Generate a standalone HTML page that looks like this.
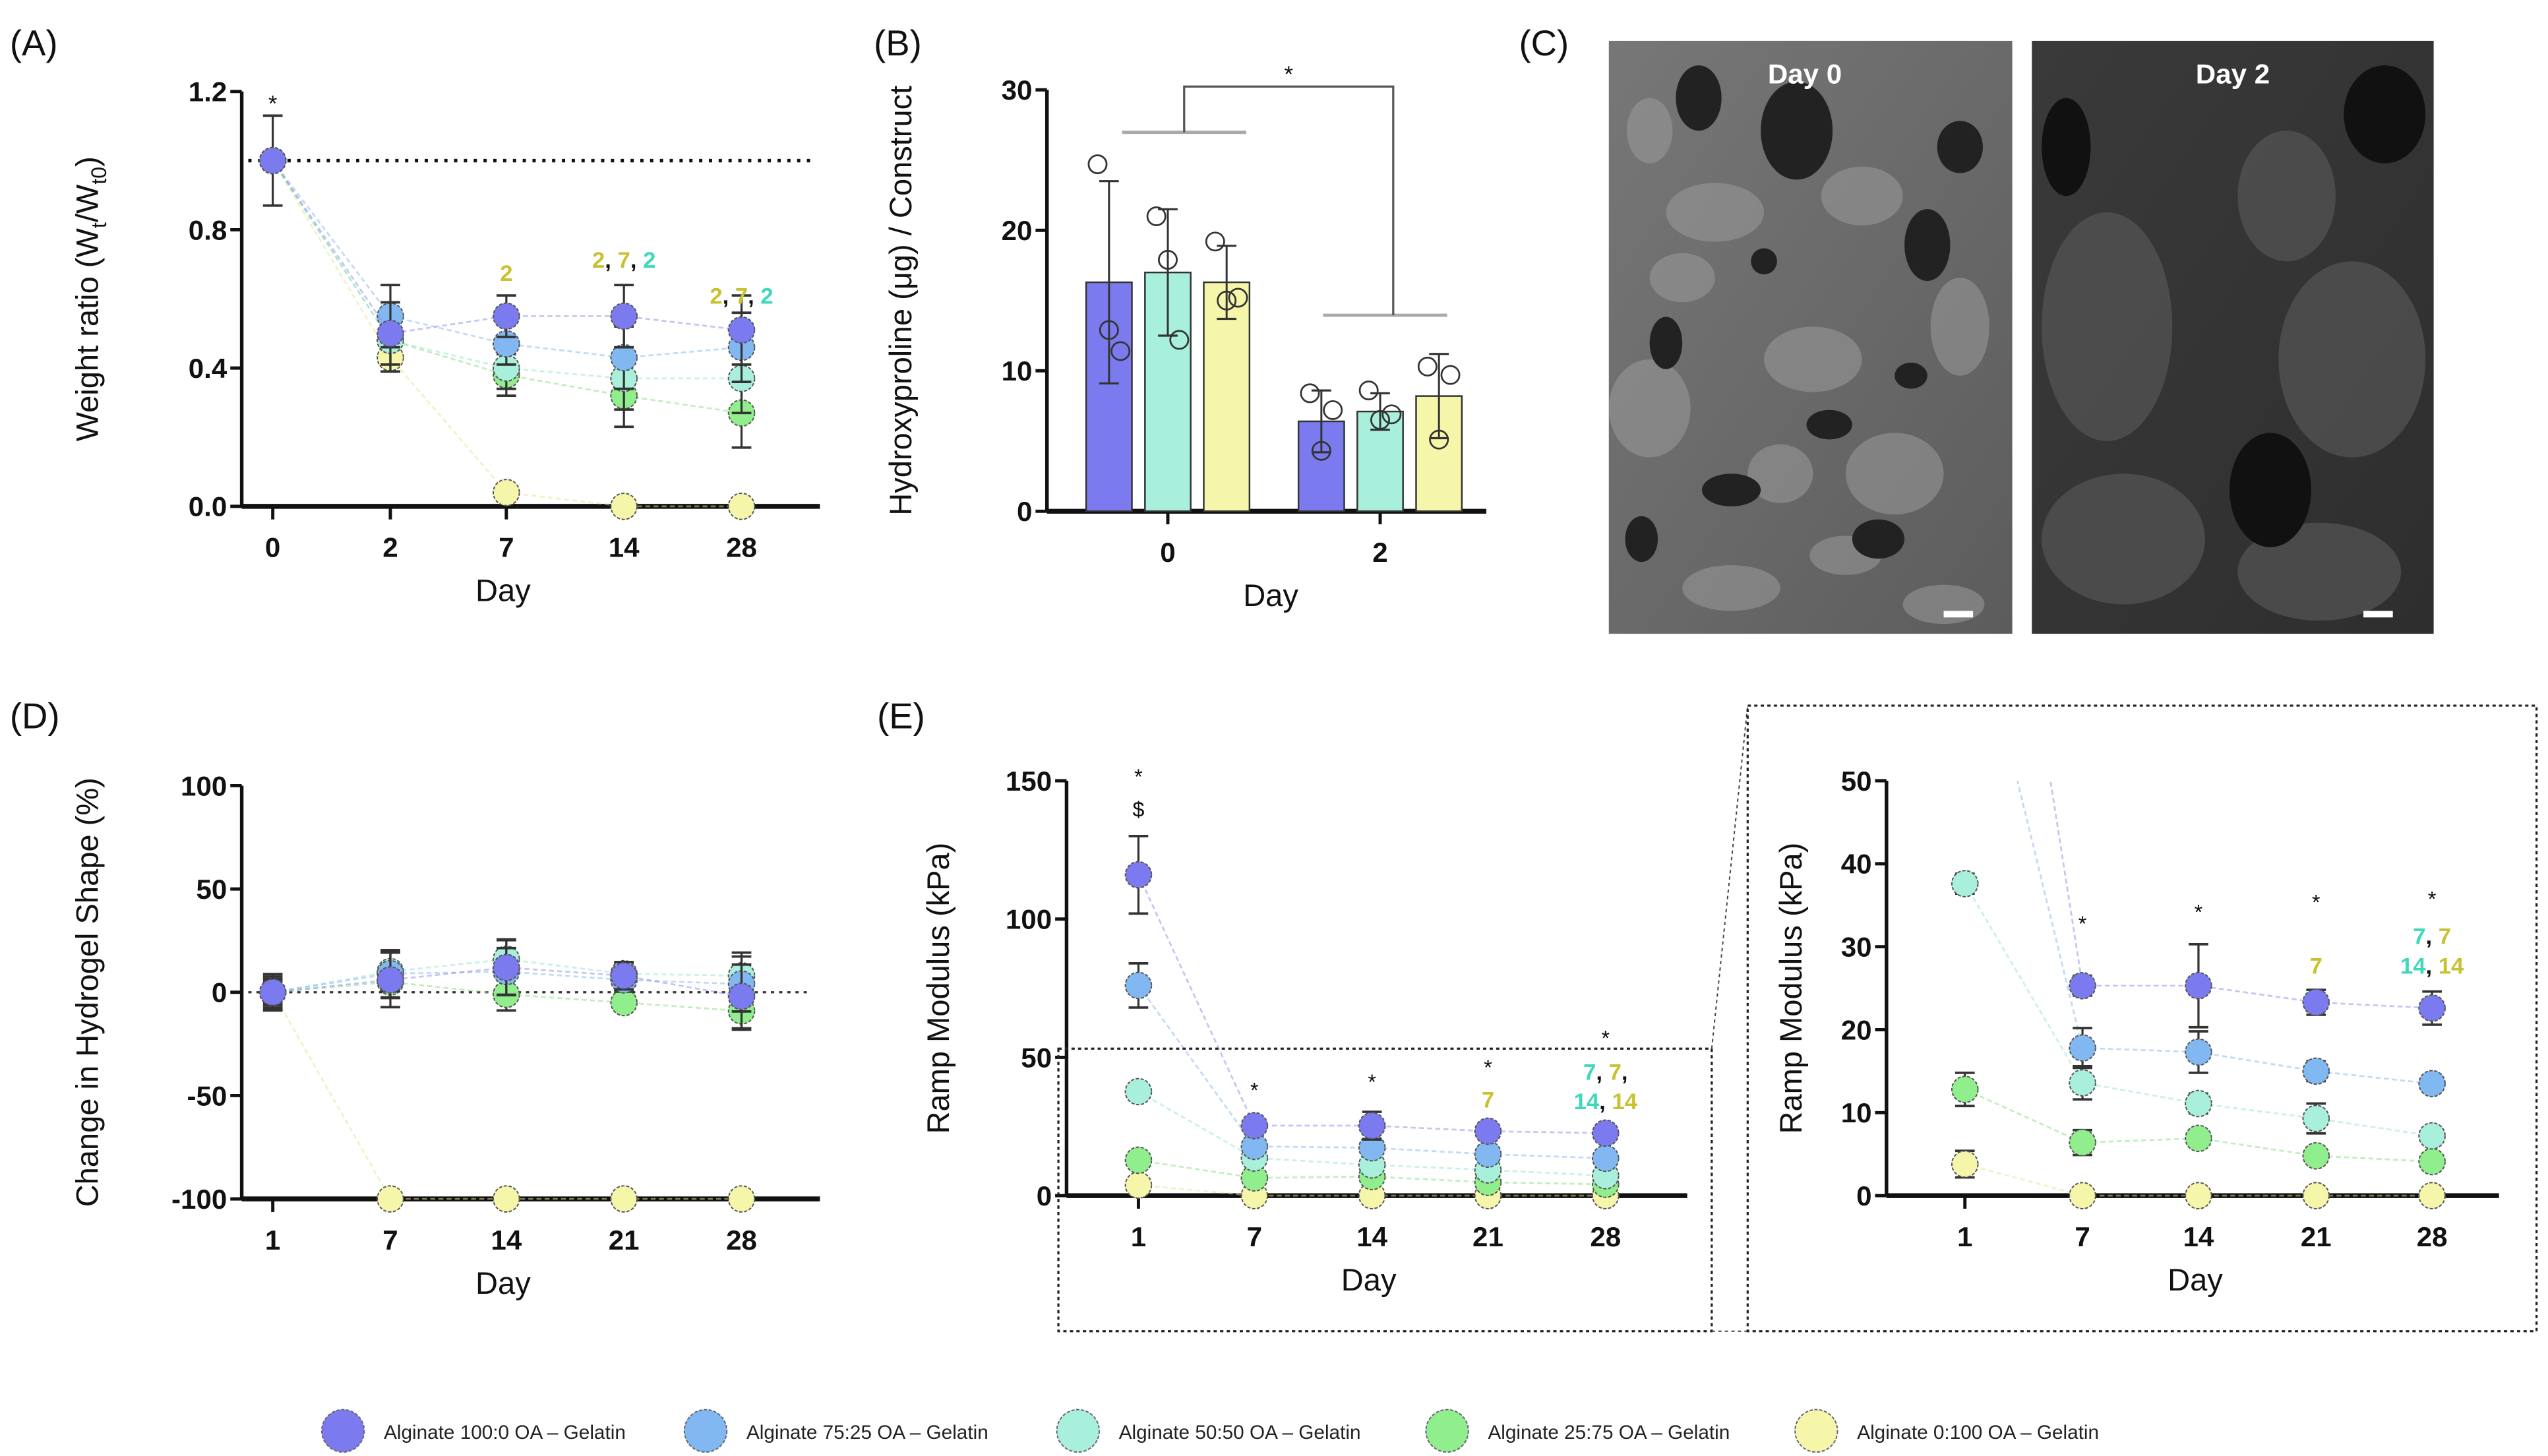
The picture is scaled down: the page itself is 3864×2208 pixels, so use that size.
<!DOCTYPE html>
<html><head><meta charset="utf-8">
<style>
html,body{margin:0;padding:0;background:#fff;}
svg{display:block;font-family:"Liberation Sans",sans-serif;}
.tk{font-weight:bold;font-size:17px;fill:#111;}
.tt{font-size:19px;fill:#111;}
</style></head>
<body>
<svg id="fig" width="3864" height="2208" viewBox="0 0 1560 891.4" preserveAspectRatio="none" xmlns="http://www.w3.org/2000/svg">
<g id="root"></g>
</svg>
<script>
// ---------- data ----------
const seriesNames = ["Alginate 100:0 OA \u2013 Gelatin","Alginate 75:25 OA \u2013 Gelatin","Alginate 50:50 OA \u2013 Gelatin","Alginate 25:75 OA \u2013 Gelatin","Alginate 0:100 OA \u2013 Gelatin"];
const seriesColors = ["#7b7bef","#82b8f2","#a9f0dc","#90ee8c","#f6f6ab"];
const lineColors = ["#8a8af0","#86b4ee","#8fe3cd","#7ee07a","#e6e28a"];

const daysA = ["0","2","7","14","28"];
const weightS1 = [1.00,0.50,0.55,0.55,0.51];
const weightS2 = [1.00,0.55,0.47,0.43,0.46];
const weightS3 = [1.00,0.48,0.40,0.37,0.37];
const weightS4 = [1.00,0.48,0.38,0.32,0.27];
const weightS5 = [1.00,0.43,0.04,0.00,0.00];
const weightErr = [0.13,0.09,0.06,0.09,0.10];
const ticksA = [0,0.4,0.8,1.2];
const tickLabelsA = ["0.0","0.4","0.8","1.2"];

const groupsB = ["0","2"];
const hypS1 = [16.3,6.4];
const hypS3 = [17.0,7.1];
const hypS5 = [16.3,8.2];
const hypErr1 = [7.2,2.2];
const hypErr3 = [4.5,1.3];
const hypErr5 = [2.6,3.0];
const hypPts1 = [[24.7,12.9,11.4],[8.4,4.3,7.2]];
const hypPts3 = [[21.0,17.9,12.2],[8.6,6.5,6.9]];
const hypPts5 = [[19.2,15.0,15.2],[10.3,5.1,9.7]];
const ticksB = [0,10,20,30];

const daysD = ["1","7","14","21","28"];
const shapeS1 = [0,6,12,8,-2];
const shapeS2 = [0,9,10,6,4];
const shapeS3 = [0,10,16,9,8];
const shapeS4 = [0,5,-1,-5,-9];
const shapeS5 = [0,-100,-100,-100,-100];
const shapeErr = [8,12,12,6,14];
const ticksD = [-100,-50,0,50,100];

const daysE = ["1","7","14","21","28"];
const modS1 = [116,25.3,25.3,23.3,22.6];
const modS2 = [76,17.8,17.3,15.0,13.5];
const modS3 = [37.6,13.6,11.1,9.3,7.2];
const modS4 = [12.8,6.4,6.9,4.8,4.1];
const modS5 = [3.8,0,0,0,0];
const modErr1 = [14,1.2,5,1.5,2];
const modErr2 = [8,2.4,2.5,1.2,1];
const modErr3 = [1.2,2,1.2,1.8,1];
const modErr4 = [2,1.5,0.8,0.8,0.8];
const modErr5 = [1.6,0,0,0,0];
const ticksE = [0,50,100,150];
const ticksE2 = [0,10,20,30,40,50];

// ---------- helpers ----------
const NS="http://www.w3.org/2000/svg";
const root=document.getElementById('root');
function el(tag,attrs,parent,text){const e=document.createElementNS(NS,tag);for(const k in attrs)e.setAttribute(k,attrs[k]);if(text!==undefined)e.textContent=text;(parent||root).appendChild(e);return e;}
function lin(v0,v1,p0,p1){return v=>p0+(v-v0)*(p1-p0)/(v1-v0);}

function axes(g,ax,x1,yTop,yBot,yTicks,yLabels,ys,xTickPx,xLabels,yTitle,xTitleX,xAxisY,titleOff){
  const yAx=el('line',{x1:ax,y1:yTop,x2:ax,y2:yBot,stroke:'#111','stroke-width':2.2},g);
  
  const xAx=el('line',{x1:ax,y1:xAxisY,x2:x1,y2:xAxisY,stroke:'#111','stroke-width':3},g);
  
  yTicks.forEach((t,i)=>{const y=ys(t);
    el('line',{x1:ax-7,y1:y,x2:ax,y2:y,stroke:'#111','stroke-width':2},g);
    const tx=el('text',{x:ax-9,y:y+6,'text-anchor':'end',class:'tk'},g,yLabels[i]);
    });
  xTickPx.forEach((x,i)=>{
    el('line',{x1:x,y1:xAxisY,x2:x,y2:xAxisY+8,stroke:'#111','stroke-width':2},g);
    const tx=el('text',{x:x,y:xAxisY+31,'text-anchor':'middle',class:'tk'},g,xLabels[i]);
    });
  const xt=el('text',{x:xTitleX,y:xAxisY+58,'text-anchor':'middle',class:'tt'},g,'Day');
  
  const cy=(yTop+yBot)/2;
  const yt=el('text',{x:0,y:0,'text-anchor':'middle',class:'tt',transform:`translate(${ax-(titleOff||83)},${cy}) rotate(-90)`},g,yTitle);
  
  return yt;
}
function series(g,xs,ys,vals,errs,ci,clip){
  const pts=vals.map((v,i)=>[xs[i],ys(v)]);
  const pl=el('polyline',{points:pts.map(p=>p.join(',')).join(' '),fill:'none',stroke:lineColors[ci],'stroke-width':1.1,'stroke-dasharray':'3,2',opacity:0.5},g);
  
  if(clip)pl.setAttribute('clip-path',clip);
  vals.forEach((v,i)=>{
    const e=errs[i]; if(e>0 && (!clip || v<=50)){
      const ya=ys(v+e),yb=ys(v-e),x=xs[i];
      el('line',{x1:x,y1:ya,x2:x,y2:yb,stroke:'#333','stroke-width':1.3},g);
      el('line',{x1:x-6,y1:ya,x2:x+6,y2:ya,stroke:'#333','stroke-width':1.5},g);
      el('line',{x1:x-6,y1:yb,x2:x+6,y2:yb,stroke:'#333','stroke-width':1.5},g);}
    if(clip && v>50) return;
    const c=el('circle',{cx:xs[i],cy:ys(v),r:8,fill:seriesColors[ci],stroke:'#555','stroke-width':0.8,'stroke-dasharray':'2,1'},g);
    
  });
}
function label(g,x,y,t,size,fill,anchor,name){const e=el('text',{x:x,y:y,'font-size':size,fill:fill||'#111','text-anchor':anchor||'start'},g,t);return e;}
function colored(g,x,y,parts){const t=el('text',{x:x,y:y,'text-anchor':'middle','font-size':14,'font-weight':'bold'},g);
  
  parts.forEach(p=>{el('tspan',{fill:p[1]},t,p[0]);});}
const Y='#c8c233', T='#3ed8bb', K='#111';

// ---------- Panel A ----------
{const g=el('g',{}); 
 label(g,6,34,'(A)',22);
 const ys=lin(0,1.2,310,56); const xs=[167,239,310,382,454];
 const yt=axes(g,148,502,56,310,ticksA,tickLabelsA,ys,xs,daysA,'',308,310,88);
 yt.innerHTML='Weight ratio (W<tspan font-size="13" dy="5">t</tspan><tspan dy="-5">/W</tspan><tspan font-size="13" dy="5">t0</tspan><tspan dy="-5">)</tspan>';
 el('line',{x1:152,y1:ys(1),x2:496,y2:ys(1),stroke:'#111','stroke-width':2.2,'stroke-dasharray':'2,4'},g);
 [weightS5,weightS4,weightS3,weightS2,weightS1].forEach((s,k)=>series(g,xs,ys,s,weightErr.map((e,i)=>i==0&&k<4?0:(k==0?0:e)),4-k));
 label(g,167,68,'*',14,'#111','middle','significance-label');
 colored(g,310,172,[['2',Y]]);
 colored(g,382,164,[['2',Y],[', ',K],['7',Y],[', ',K],['2',T]]);
 colored(g,454,186,[['2',Y],[', ',K],['7',Y],[', ',K],['2',T]]);
}
// ---------- Panel B ----------
{const g=el('g',{}); 
 label(g,535,34,'(B)',22);
 const ys=lin(0,30,313,55);
 axes(g,641,910,55,313,ticksB,ticksB.map(String),ys,[715,845],groupsB,'Hydroxyproline (\u03bcg) / Construct',778,313);
 const offs=[-36,0,36], sets=[[hypS1,hypErr1,hypPts1,0],[hypS3,hypErr3,hypPts3,2],[hypS5,hypErr5,hypPts5,4]];
 [715,845].forEach((cx,gi)=>sets.forEach((s,si)=>{
   const x=cx+offs[si]; const v=s[0][gi], top=ys(v);
   const b=el('rect',{x:x-14,y:top,width:28,height:313-top,fill:seriesColors[s[3]],stroke:'#333','stroke-width':1},g);
   
   const e=s[1][gi];
   el('line',{x1:x,y1:ys(v+e),x2:x,y2:ys(v-e),stroke:'#333','stroke-width':1.2},g);
   el('line',{x1:x-6,y1:ys(v+e),x2:x+6,y2:ys(v+e),stroke:'#333','stroke-width':1.3},g);
   el('line',{x1:x-6,y1:ys(v-e),x2:x+6,y2:ys(v-e),stroke:'#333','stroke-width':1.3},g);
   s[2][gi].forEach((p,pi)=>{const c=el('circle',{cx:x+(pi-1)*7,cy:ys(p),r:5.5,fill:'none',stroke:'#333','stroke-width':1.1},g);
     });
 }));
 el('line',{x1:687,y1:81,x2:763,y2:81,stroke:'#aaa','stroke-width':2},g);
 el('line',{x1:810,y1:193,x2:886,y2:193,stroke:'#aaa','stroke-width':2},g);
 el('polyline',{points:'725,81 725,53 853,53 853,193',fill:'none',stroke:'#555','stroke-width':1.3},g);
 label(g,789,50,'*',14,'#111','middle','significance-label');
}
// ---------- Panel C (SEM images) ----------
{const g=el('g',{}); 
 label(g,930,34,'(C)',22);
 const d=el('defs',{},g);
 d.innerHTML='<linearGradient id="g0" x1="0" y1="0" x2="1" y2="1"><stop offset="0" stop-color="#777"/><stop offset="0.5" stop-color="#6a6a6a"/><stop offset="1" stop-color="#5c5c5c"/></linearGradient><linearGradient id="g1" x1="0" y1="0" x2="1" y2="1"><stop offset="0" stop-color="#3a3a3a"/><stop offset="1" stop-color="#2e2e2e"/></linearGradient>';
 const i0=el('g',{},g);
 el('rect',{x:985,y:25,width:247,height:363,fill:'url(#g0)'},i0);
 [[1050,130,30,18],[1010,250,25,30],[1110,220,30,20],[1160,290,30,25],[1060,360,30,14],[1190,370,25,12],[1140,120,25,18],[1030,170,20,15],[1090,290,20,18],[1200,200,18,30],[1010,80,14,20],[1130,340,22,12]].forEach(a=>el('ellipse',{cx:a[0],cy:a[1],rx:a[2],ry:a[3],fill:'#9a9a9a',opacity:0.55},i0));
 [[1040,60,14,20],[1100,80,22,30],[1020,210,10,16],[1060,300,18,10],[1120,260,14,9],[1180,150,14,22],[1005,330,10,14],[1150,330,16,12],[1200,90,14,16],[1080,160,8,8],[1170,230,10,8]].forEach(a=>el('ellipse',{cx:a[0],cy:a[1],rx:a[2],ry:a[3],fill:'#222'},i0));
 const i1=el('g',{},g);
 el('rect',{x:1244,y:25,width:246,height:363,fill:'url(#g1)'},i1);
 [[1290,200,40,70],[1400,120,30,40],[1440,220,45,60],[1300,330,50,40],[1420,350,50,30]].forEach(a=>el('ellipse',{cx:a[0],cy:a[1],rx:a[2],ry:a[3],fill:'#555',opacity:0.7},i1));
 [[1390,300,25,35],[1460,70,25,30],[1265,90,15,30]].forEach(a=>el('ellipse',{cx:a[0],cy:a[1],rx:a[2],ry:a[3],fill:'#111'},i1));
 const t0=el('text',{x:1105,y:51,'text-anchor':'middle','font-size':17,'font-weight':'bold',fill:'#fff'},g,'Day 0');
 const t1=el('text',{x:1367,y:51,'text-anchor':'middle','font-size':17,'font-weight':'bold',fill:'#fff'},g,'Day 2');
 const s0=el('rect',{x:1190,y:374,width:18,height:4,fill:'#fff'},g);
 const s1=el('rect',{x:1447,y:374,width:18,height:4,fill:'#fff'},g);
}
// ---------- Panel D ----------
{const g=el('g',{}); 
 label(g,6,446,'(D)',22);
 const ys=lin(-100,100,734,481); const xs=[167,239,310,382,454];
 axes(g,148,502,481,734,ticksD,ticksD.map(String),ys,xs,daysD,'Change in Hydrogel Shape (%)',308,734,88);
 el('line',{x1:152,y1:ys(0),x2:496,y2:ys(0),stroke:'#333','stroke-width':1.3,'stroke-dasharray':'2,3'},g);
 [shapeS5,shapeS4,shapeS3,shapeS2,shapeS1].forEach((s,k)=>series(g,xs,ys,s,k==0?[0,0,0,0,0]:shapeErr.map(e=>e*(0.5+0.15*k)),4-k));
}
// ---------- Panel E ----------
{const g=el('g',{}); 
 label(g,537,446,'(E)',22);
 const ys=lin(0,150,732,478); const xs=[697,768,840,911,983];
 axes(g,653,1033,478,732,ticksE,ticksE.map(String),ys,xs,daysE,'Ramp Modulus (kPa)',838,732,72);
 const S=[modS1,modS2,modS3,modS4,modS5],E=[modErr1,modErr2,modErr3,modErr4,modErr5];
 for(let k=4;k>=0;k--)series(g,xs,ys,S[k],E[k],k);
 label(g,697,480,'*',13,'#111','middle','significance-label');
 label(g,697,500,'$',13,'#111','middle','significance-label');
 [[768,672],[840,667],[911,658],[983,640]].forEach(p=>label(g,p[0],p[1],'*',13,'#111','middle','significance-label'));
 colored(g,911,678,[['7',Y]]);
 colored(g,983,661,[['7',T],[', ',K],['7',Y],[',',K]]);
 colored(g,983,679,[['14',T],[', ',K],['14',Y]]);
 const b1=el('rect',{x:648,y:642,width:400,height:173,fill:'none',stroke:'#222','stroke-width':1.3,'stroke-dasharray':'2,2'},g);
 
 el('line',{x1:1048,y1:642,x2:1070,y2:432,stroke:'#444','stroke-width':0.8,'stroke-dasharray':'2,2'},g);
 el('line',{x1:1048,y1:815,x2:1070,y2:815,stroke:'#444','stroke-width':0.8,'stroke-dasharray':'2,2'},g);
 const b2=el('rect',{x:1070,y:432,width:483,height:383,fill:'none',stroke:'#222','stroke-width':1.3,'stroke-dasharray':'2,2'},g);
 
 const ys2=lin(0,50,732,478); const xs2=[1203,1275,1346,1418,1489];
 axes(g,1155,1530,478,732,ticksE2,ticksE2.map(String),ys2,xs2,daysE,'Ramp Modulus (kPa)',1344,732,52);
 const d=el('defs',{},g); d.innerHTML='<clipPath id="ck"><rect x="1156" y="478" width="380" height="260"/></clipPath>';
 for(let k=4;k>=0;k--)series(g,xs2,ys2,S[k],E[k],k,'url(#ck)');
 [[1275,570],[1346,563],[1418,557],[1489,555]].forEach(p=>label(g,p[0],p[1],'*',13,'#111','middle','significance-label'));
 colored(g,1418,596,[['7',Y]]);
 colored(g,1489,578,[['7',T],[', ',K],['7',Y]]);
 colored(g,1489,596,[['14',T],[', ',K],['14',Y]]);
}
// ---------- Legend ----------
{const g=el('g',{}); 
 const lx=[210,432,660,886,1112];
 seriesNames.forEach((n,i)=>{
   const eg=el('g',{},g);
   el('circle',{cx:lx[i],cy:876,r:13,fill:seriesColors[i],stroke:'#667','stroke-width':0.8,'stroke-dasharray':'2,1'},eg);
   el('text',{x:lx[i]+25,y:881,'font-size':12,fill:'#222'},eg,n);
 });
}
</script>
</body></html>
